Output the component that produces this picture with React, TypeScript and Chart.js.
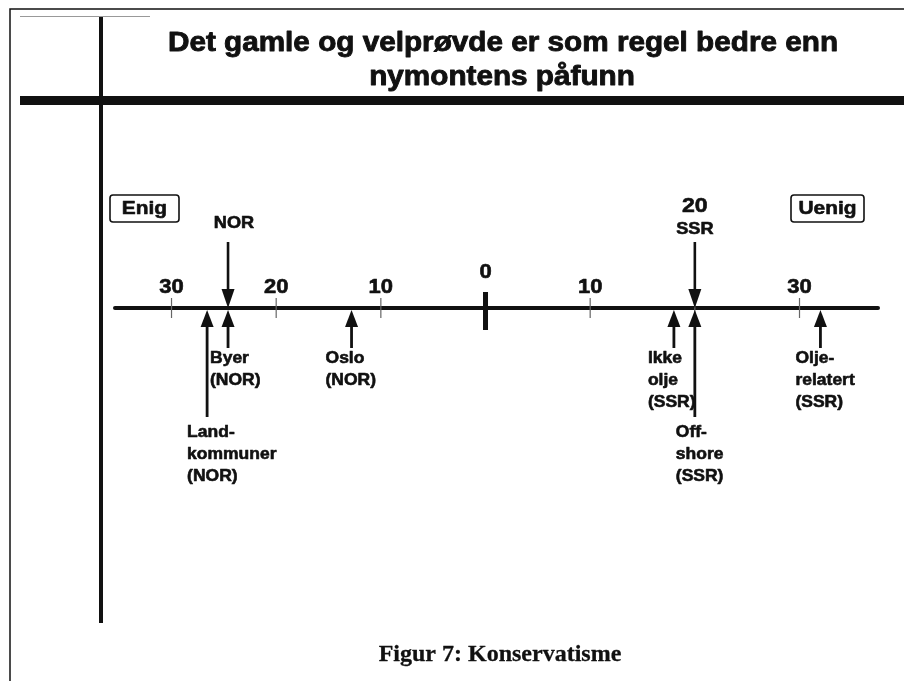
import { useEffect, useRef } from "react";
import { Chart, registerables } from "chart.js";

Chart.register(...registerables);

// ---------- data ----------
const TITLE_LINES = ["Det gamle og velprøvde er som regel bedre enn", "nymontens påfunn"];
const CAPTION = "Figur 7: Konservatisme";
const LEFT_POLE = "Enig";
const RIGHT_POLE = "Uenig";
const TICK_VALUES = [-30, -20, -10, 0, 10, 20, 30];
// tick whose label is lifted above the SSR arrow
const RAISED_TICK = 20;
const AXIS_MIN = -35.4;
const AXIS_MAX = 37.5;

const TOTAL_NAMES = ["NOR", "SSR"];
const TOTAL_VALUES = [-24.6, 20.0];

const GROUP_NAMES = [
  ["Land-", "kommuner", "(NOR)"],
  ["Byer", "(NOR)"],
  ["Oslo", "(NOR)"],
  ["Ikke", "olje", "(SSR)"],
  ["Off-", "shore", "(SSR)"],
  ["Olje-", "relatert", "(SSR)"],
];
const GROUP_VALUES = [-26.6, -24.6, -12.8, 18.0, 20.0, 32.0];

// ---------- layout (pixels / styles) ----------
const W = 904;
const H = 681;
const AXIS_Y = 308;
const SX = 1.1;
const SANS = '"Liberation Sans", Arial, Helvetica, sans-serif';
const SERIF = '"Liberation Serif", "Times New Roman", serif';
const GROUP_LABEL_ROW = [1, 0, 0, 0, 1, 0];
const GROUP_LABEL_DX = [-20, -18, -26, -26, -19, -25];
const TOTAL_LABEL_DX = [6, 0];
const INK = "#111";

function txt(
  ctx: CanvasRenderingContext2D,
  s: string,
  x: number,
  y: number,
  font: string,
  align: CanvasTextAlign = "center",
  sx = SX,
  bold = 0.6
) {
  ctx.save();
  ctx.font = font;
  ctx.translate(x, y);
  ctx.scale(sx, 1);
  ctx.textAlign = align;
  ctx.textBaseline = "middle";
  ctx.fillStyle = INK;
  ctx.fillText(s, 0, 0);
  if (bold > 0) {
    ctx.strokeStyle = INK;
    ctx.lineWidth = bold;
    ctx.lineJoin = "round";
    ctx.strokeText(s, 0, 0);
  }
  ctx.restore();
}

function roundRect(ctx: CanvasRenderingContext2D, x: number, y: number, w: number, h: number, r: number) {
  ctx.beginPath();
  ctx.moveTo(x + r, y);
  ctx.lineTo(x + w - r, y);
  ctx.quadraticCurveTo(x + w, y, x + w, y + r);
  ctx.lineTo(x + w, y + h - r);
  ctx.quadraticCurveTo(x + w, y + h, x + w - r, y + h);
  ctx.lineTo(x + r, y + h);
  ctx.quadraticCurveTo(x, y + h, x, y + h - r);
  ctx.lineTo(x, y + r);
  ctx.quadraticCurveTo(x, y, x + r, y);
  ctx.closePath();
}

const diagramPlugin = {
  id: "diagram",
  afterDatasetsDraw(chart: any) {
    const ctx: CanvasRenderingContext2D = chart.ctx;
    const xs = chart.scales.x;
    const ys = chart.scales.y;
    const axisY = ys.getPixelForValue(AXIS_Y);
    ctx.save();

    // frame
    ctx.strokeStyle = INK;
    ctx.lineWidth = 1.5;
    ctx.beginPath();
    ctx.moveTo(10, H);
    ctx.lineTo(10, 9);
    ctx.lineTo(W, 9);
    ctx.stroke();
    ctx.strokeStyle = "#999";
    ctx.lineWidth = 1;
    ctx.beginPath();
    ctx.moveTo(20, 16.5);
    ctx.lineTo(150, 16.5);
    ctx.stroke();

    ctx.fillStyle = INK;
    ctx.fillRect(99, 17, 4, 606);
    ctx.fillRect(20, 96, W - 20, 9);

    // title
    txt(ctx, TITLE_LINES[0], 503, 43, `bold 27.5px ${SANS}`, "center", 1.08, 0.9);
    txt(ctx, TITLE_LINES[1], 502, 77, `bold 27.5px ${SANS}`, "center", 1.08, 0.9);

    // poles
    ctx.strokeStyle = INK;
    ctx.lineWidth = 1.6;
    roundRect(ctx, 110, 195, 69, 27, 3);
    ctx.stroke();
    txt(ctx, LEFT_POLE, 144.5, 208.5, `bold 19px ${SANS}`);
    roundRect(ctx, 791, 195, 73, 27, 3);
    ctx.stroke();
    txt(ctx, RIGHT_POLE, 827.5, 208.5, `bold 19px ${SANS}`);

    // axis line
    const x0 = xs.getPixelForValue(AXIS_MIN);
    const x1 = xs.getPixelForValue(AXIS_MAX);
    ctx.strokeStyle = INK;
    ctx.lineWidth = 4;
    ctx.lineCap = "round";
    ctx.beginPath();
    ctx.moveTo(x0, axisY);
    ctx.lineTo(x1, axisY);
    ctx.stroke();
    ctx.lineCap = "butt";

    // ticks
    TICK_VALUES.forEach((v) => {
      const px = xs.getPixelForValue(v);
      const label = String(Math.abs(v));
      if (v === 0) {
        ctx.fillStyle = INK;
        ctx.fillRect(px - 2.5, axisY - 16, 5, 38);
        txt(ctx, label, px, 272, `bold 20px ${SANS}`);
      } else {
        ctx.strokeStyle = "#666";
        ctx.lineWidth = 1.2;
        ctx.beginPath();
        ctx.moveTo(px, axisY - 10);
        ctx.lineTo(px, axisY + 10);
        ctx.stroke();
        if (v === RAISED_TICK) {
          txt(ctx, label, px, 206, `bold 21px ${SANS}`);
        } else {
          txt(ctx, label, px, 287, `bold 20px ${SANS}`);
        }
      }
    });

    // total (down) arrows
    const metaT = chart.getDatasetMeta(0);
    metaT.data.forEach((el: any, i: number) => {
      const px = el.x;
      const tip = el.y;
      const headH = 19;
      const headW = 13;
      ctx.strokeStyle = INK;
      ctx.lineWidth = 2.6;
      ctx.beginPath();
      ctx.moveTo(px, 242);
      ctx.lineTo(px, tip - headH + 2);
      ctx.stroke();
      ctx.fillStyle = INK;
      ctx.beginPath();
      ctx.moveTo(px, tip);
      ctx.lineTo(px - headW / 2, tip - headH);
      ctx.lineTo(px + headW / 2, tip - headH);
      ctx.closePath();
      ctx.fill();
      const lx = px + TOTAL_LABEL_DX[i];
      const ly = i === 1 ? 229 : 223;
      txt(ctx, TOTAL_NAMES[i], lx, ly, `bold 16.5px ${SANS}`);
    });

    // group (up) arrows
    const metaG = chart.getDatasetMeta(1);
    metaG.data.forEach((el: any, i: number) => {
      const px = el.x;
      const tip = el.y + 2;
      const headH = 17;
      const headW = 13;
      const labelY = GROUP_LABEL_ROW[i] === 1 ? 432 : 358;
      const shaftEnd = GROUP_LABEL_ROW[i] === 1 ? labelY - 15 : labelY - 10;
      ctx.strokeStyle = INK;
      ctx.lineWidth = 2.8;
      ctx.beginPath();
      ctx.moveTo(px, tip + headH - 2);
      ctx.lineTo(px, shaftEnd);
      ctx.stroke();
      ctx.fillStyle = INK;
      ctx.beginPath();
      ctx.moveTo(px, tip);
      ctx.lineTo(px - headW / 2, tip + headH);
      ctx.lineTo(px + headW / 2, tip + headH);
      ctx.closePath();
      ctx.fill();
      const lx = px + GROUP_LABEL_DX[i];
      GROUP_NAMES[i].forEach((line, k) => {
        txt(ctx, line, lx, labelY + k * 22, `bold 16.5px ${SANS}`, "left", 1.06);
      });
    });

    // caption
    txt(ctx, CAPTION, 500, 655, `bold 24px ${SERIF}`, "center", 1, 0.3);

    ctx.restore();
  },
};

export default function App() {
  const ref = useRef<HTMLCanvasElement | null>(null);
  useEffect(() => {
    if (!ref.current) return;
    const chart = new Chart(ref.current, {
      type: "scatter",
      data: {
        datasets: [
          {
            label: "Totalt",
            data: TOTAL_VALUES.map((v) => ({ x: v, y: AXIS_Y })),
            pointRadius: 0,
            pointHoverRadius: 0,
          },
          {
            label: "Grupper",
            data: GROUP_VALUES.map((v) => ({ x: v, y: AXIS_Y })),
            pointRadius: 0,
            pointHoverRadius: 0,
          },
        ],
      },
      options: {
        animation: false,
        responsive: false,
        maintainAspectRatio: false,
        events: [],
        layout: { padding: { left: 115, right: W - 878, top: 0, bottom: 0 } },
        plugins: {
          legend: { display: false },
          tooltip: { enabled: false },
          title: { display: false },
        },
        scales: {
          x: { type: "linear", min: AXIS_MIN, max: AXIS_MAX, display: false },
          y: { type: "linear", min: 0, max: H, reverse: true, display: false },
        },
      },
      plugins: [diagramPlugin],
    });
    return () => chart.destroy();
  }, []);
  return (
    <div style={{ position: "absolute", left: 0, top: 0, width: W, height: H, background: "#fff" }}>
      <canvas ref={ref} width={W} height={H} style={{ width: W, height: H, display: "block" }} />
    </div>
  );
}
